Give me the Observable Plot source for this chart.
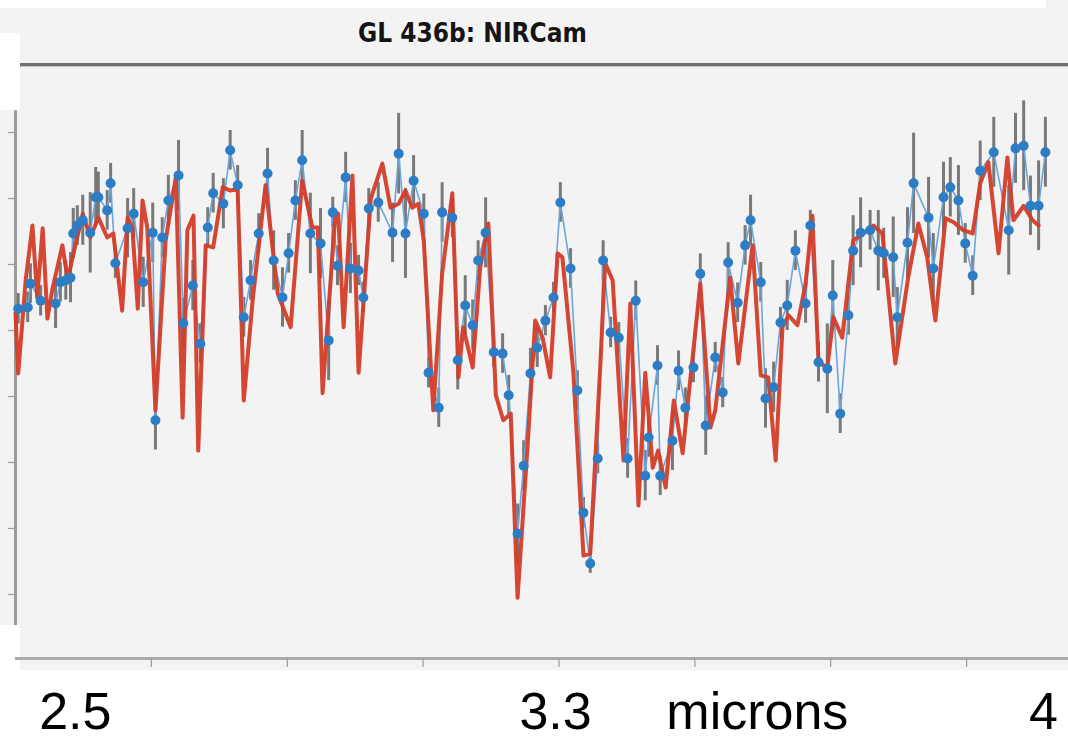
<!DOCTYPE html>
<html><head><meta charset="utf-8">
<script src="https://cdn.jsdelivr.net/npm/d3@7"></script>
<script src="https://cdn.jsdelivr.net/npm/@observablehq/plot@0.6"></script>
<style>
html,body{margin:0;padding:0;background:#fff;}
#page{position:relative;width:1068px;height:741px;overflow:hidden;background:#fff;}
#header{position:absolute;left:0;top:8px;width:1068px;height:57px;background:#f3f3f3;}
#topright{position:absolute;left:1046px;top:0;width:22px;height:8px;background:#f3f3f3;}
#panel{position:absolute;left:0;top:66px;width:1068px;height:604px;background:#f3f3f3;}
.notch{position:absolute;left:0;width:20px;background:#fff;}
#rule{position:absolute;left:20px;top:63px;width:1048px;height:3px;background:#707070;border-bottom:1px solid #c4c4c4;}
#title{position:absolute;left:0;width:945px;top:8px;height:50px;line-height:50px;text-align:center;font-family:"DejaVu Sans Condensed","DejaVu Sans",sans-serif;font-weight:bold;font-size:26px;font-stretch:condensed;color:#151515;}
#chart{position:absolute;left:0;top:66px;}
</style>
</head><body>
<div id="page">
  <div id="header"></div>
  <div id="topright"></div>
  <div id="panel"></div>
  <div class="notch" style="top:33px;height:77px"></div>
  <div class="notch" style="top:625px;height:45px"></div>
  <div id="rule"></div>
  <div id="title">GL 436b: NIRCam</div>
  <div id="chart"></div>
</div>
<script>
// Observed spectrum (wavelength in microns, relative depth, 1-sigma error)
const wavelength = [
2.404,2.418,2.422,2.437,2.459,2.466,2.474,2.481,2.485,2.491,
2.499,2.510,2.518,2.522,2.535,2.540,2.547,2.565,2.574,2.588,
2.602,2.606,2.616,2.625,2.640,2.647,2.661,2.672,2.683,2.691,
2.706,2.716,2.727,2.736,2.746,2.758,2.771,2.780,2.793,2.802,
2.812,2.822,2.834,2.849,2.861,2.867,2.874,2.886,2.893,2.905,
2.912,2.920,2.934,2.955,2.964,2.974,2.986,3.001,3.008,3.023,
3.028,3.043,3.051,3.062,3.073,3.081,3.092,3.104,3.117,3.126,
3.139,3.148,3.158,3.168,3.180,3.192,3.202,3.217,3.227,3.236,
3.246,3.257,3.265,3.276,3.288,3.301,3.313,3.327,3.332,3.345,
3.349,3.367,3.376,3.386,3.398,3.408,3.416,3.430,3.441,3.449,
3.463,3.474,3.482,3.497,3.504,3.516,3.526,3.536,3.548,3.563,
3.570,3.582,3.595,3.603,3.614,3.626,3.633,3.644,3.658,3.670,
3.678,3.692,3.698,3.713,3.722,3.744,3.751,3.766,3.776,3.788,
3.798,3.809,3.820,3.840,3.862,3.872,3.884,3.894,3.906,3.916];
const depth = [
43.3,43.5,47.1,44.5,44.1,47.3,47.6,48.0,54.7,55.9,
56.7,54.8,60.2,60.2,58.2,62.3,50.2,55.5,57.7,47.3,
54.8,26.4,54.1,59.7,63.5,41.1,46.8,38.0,55.6,60.8,
59.2,67.3,62.0,42.0,47.6,54.7,63.8,50.6,45.0,51.7,
59.7,65.8,54.7,53.2,38.5,57.9,49.8,63.2,49.4,49.1,
45.0,58.5,59.4,54.8,66.8,54.7,62.7,57.7,33.6,28.3,
57.9,57.1,35.5,43.8,40.8,50.6,54.8,36.7,36.5,30.2,
9.2,19.5,33.5,37.4,41.5,45.0,59.4,49.4,30.9,12.4,
4.7,20.6,50.6,39.7,38.9,20.6,44.5,18.0,23.8,34.7,
18.0,23.3,33.9,28.3,34.4,48.6,25.6,35.9,30.6,50.3,
44.2,52.9,56.7,47.3,29.7,31.4,41.2,43.8,52.1,44.1,
55.9,35.2,34.2,45.3,27.4,42.3,52.1,54.8,55.2,52.1,
51.7,51.1,42.0,53.3,62.3,57.1,49.4,60.2,61.7,59.7,
53.2,48.3,64.2,67.0,55.2,67.6,68.0,58.9,58.9,67.0];
const err = [
2.3,2.3,3.0,2.3,3.8,3.0,3.0,3.8,3.8,3.0,
3.8,6.1,4.5,3.8,3.0,3.0,2.3,4.5,3.8,3.8,
4.5,4.5,3.0,3.8,5.3,3.8,3.8,3.0,3.0,3.0,
3.8,3.0,3.0,3.0,3.0,3.0,3.8,4.5,4.5,3.0,
3.0,4.5,6.1,5.3,6.1,2.3,3.0,3.8,3.8,2.3,
2.3,3.0,3.0,4.5,6.1,6.8,3.8,3.0,2.3,3.0,
4.5,3.0,4.5,4.5,3.8,3.0,5.3,2.3,3.0,3.0,
4.5,3.8,3.8,3.0,2.3,2.3,3.0,3.0,3.0,2.3,
1.5,2.3,3.0,2.3,2.3,3.0,3.0,3.8,3.0,3.0,
3.0,4.5,3.0,3.0,2.3,3.0,4.5,2.3,2.3,3.0,
3.0,3.0,3.8,3.0,4.5,3.8,2.3,3.8,3.0,3.0,
2.3,3.0,6.8,5.3,3.0,3.0,5.3,5.3,3.0,6.1,
3.8,6.1,4.5,5.3,7.6,6.1,5.3,5.3,4.5,5.3,
3.0,3.0,4.5,5.3,6.8,5.3,6.8,4.5,6.8,5.3];

// Model spectrum
const modelWave = [
2.400,2.404,2.415,2.425,2.432,2.440,2.447,2.454,2.469,2.477,
2.484,2.499,2.510,2.522,2.535,2.544,2.557,2.565,2.572,2.580,
2.587,2.594,2.606,2.621,2.636,2.646,2.653,2.662,2.669,2.680,
2.691,2.705,2.716,2.727,2.736,2.749,2.768,2.786,2.805,2.822,
2.837,2.845,2.852,2.871,2.875,2.883,2.896,2.905,2.923,2.940,
2.952,2.964,2.974,2.984,2.993,3.001,3.015,3.028,3.043,3.052,
3.059,3.073,3.084,3.096,3.107,3.118,3.129,3.139,3.154,3.165,
3.176,3.187,3.198,3.205,3.221,3.236,3.246,3.261,3.268,3.279,
3.295,3.305,3.317,3.327,3.338,3.346,3.357,3.369,3.382,3.408,
3.423,3.430,3.452,3.464,3.485,3.497,3.508,3.519,3.529,3.538,
3.551,3.563,3.573,3.582,3.595,3.604,3.617,3.633,3.648,3.663,
3.676,3.695,3.714,3.729,3.742,3.754,3.769,3.781,3.795,3.809,
3.820,3.832,3.847,3.860,3.869,3.884,3.897,3.906];
const modelDepth = [
42.6,33.5,47.6,55.9,45.0,55.5,41.8,46.1,52.9,47.6,
51.1,57.7,54.1,57.1,54.1,54.7,43.0,57.1,55.5,43.3,
59.7,55.6,27.9,53.6,63.2,26.8,55.2,57.4,21.8,52.9,
52.6,61.7,61.2,61.5,29.4,44.5,62.0,45.6,40.5,62.7,
55.6,55.6,30.5,57.9,57.7,40.5,63.5,33.6,60.0,65.3,
58.6,59.2,61.2,58.6,59.2,53.6,27.9,48.6,60.8,32.9,
40.5,34.4,49.5,56.2,30.2,26.4,27.4,-0.5,22.9,41.5,
38.9,32.9,51.7,51.1,33.9,5.9,6.2,35.0,50.2,47.6,
20.3,44.1,13.5,33.6,19.2,21.8,16.2,29.4,21.4,47.1,
25.3,27.9,48.0,35.0,52.9,33.2,32.9,20.3,40.5,42.3,
40.8,47.1,57.4,35.2,34.4,42.0,38.9,53.6,54.7,55.9,
54.7,35.0,48.0,56.2,51.1,41.5,57.0,56.4,55.2,54.7,
62.3,65.5,51.7,66.2,56.7,58.9,56.7,55.9];

// Axes
const xTicks = [2.6, 2.8, 3.0, 3.2, 3.4, 3.6, 3.8];
const yTicks = [0, 10, 20, 30, 40, 50, 60, 70];
const labelText = ["2.5", "3.3", "microns", "4"];
const labelWave = [2.488, 3.195, 3.492, 3.913];

const xDomain = [2.4, 3.95];
const yDomain = [-9.7, 79.85];
const yAxisSpan = [-4.7, 73.3];

const obs = wavelength.map((w, i) => ({w, d: depth[i], lo: depth[i] - err[i], hi: depth[i] + err[i]}));
const model = modelWave.map((w, i) => ({w, d: modelDepth[i]}));
const labels = labelText.map((t, i) => ({t, x: labelWave[i]}));

const chart = Plot.plot({
  width: 1068, height: 675,
  marginTop: 1, marginBottom: 83, marginLeft: 15, marginRight: 0,
  style: {background: "transparent", overflow: "visible"},
  x: {domain: xDomain, axis: null},
  y: {domain: yDomain, axis: null},
  marks: [
    Plot.ruleY([yDomain[0]], {stroke: "#ababab", strokeWidth: 3}),
    Plot.axisX(xTicks, {anchor: "bottom", tickSize: 9, tickFormat: () => "", stroke: "#9a9a9a", strokeWidth: 1.2}),
    Plot.ruleX([xDomain[0]], {y1: yAxisSpan[0], y2: yAxisSpan[1], stroke: "#9c9c9c", strokeWidth: 3}),
    Plot.axisY(yTicks, {anchor: "left", tickSize: 7, tickFormat: () => "", stroke: "#9c9c9c", strokeWidth: 1.2}),
    Plot.ruleX(obs, {x: "w", y1: "lo", y2: "hi", stroke: "#505050", strokeWidth: 3, strokeOpacity: 0.75}),
    Plot.line(obs, {x: "w", y: "d", stroke: "#6aa6dd", strokeWidth: 1.6}),
    Plot.line(model, {x: "w", y: "d", stroke: "#d33c28", strokeWidth: 4, strokeLinejoin: "round", strokeOpacity: 0.95}),
    Plot.dot(obs, {x: "w", y: "d", r: 5, fill: "#2c7cc6"}),
    Plot.text(labels, {x: "x", text: "t", frameAnchor: "bottom", dy: 70, fontSize: 52, fill: "#000",
      fontFamily: "Liberation Sans, Arial, sans-serif", lineAnchor: "bottom"})
  ]
});
document.getElementById("chart").appendChild(chart);
</script>
</body></html>
